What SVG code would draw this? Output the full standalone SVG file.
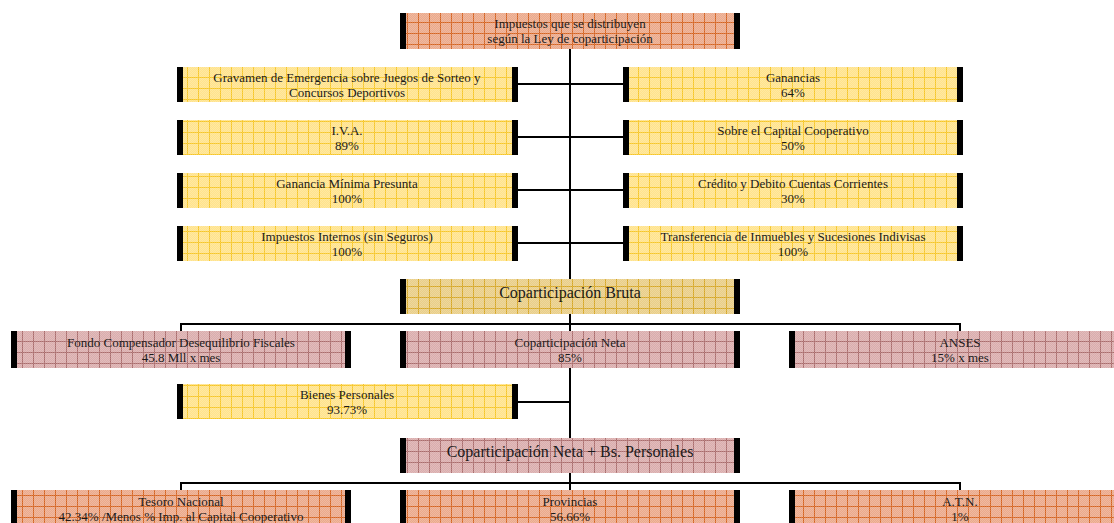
<svg xmlns="http://www.w3.org/2000/svg" width="1114" height="523" viewBox="0 0 1114 523">
<defs>
<pattern id="pOr" patternUnits="userSpaceOnUse" width="11" height="11"><rect width="11" height="11" fill="#EBA98B"/><path d="M0.5 0V11M0 0.5H11" stroke="#D4621F" stroke-width="1"/></pattern>
<pattern id="pYe" patternUnits="userSpaceOnUse" width="11" height="11"><rect width="11" height="11" fill="#FFE38C"/><path d="M0.5 0V11M0 0.5H11" stroke="#F6C626" stroke-width="1"/></pattern>
<pattern id="pBr" patternUnits="userSpaceOnUse" width="11" height="11"><rect width="11" height="11" fill="#E9CE88"/><path d="M0.5 0V11M0 0.5H11" stroke="#D6A623" stroke-width="1"/></pattern>
<pattern id="pPk" patternUnits="userSpaceOnUse" width="11" height="11"><rect width="11" height="11" fill="#DAADAD"/><path d="M0.5 0V11M0 0.5H11" stroke="#AA6B6B" stroke-width="1"/></pattern>
<pattern id="dith" patternUnits="userSpaceOnUse" width="2" height="2"><rect width="1" height="1" fill="#ffffff" fill-opacity="0.18"/><rect x="1" y="1" width="1" height="1" fill="#ffffff" fill-opacity="0.18"/></pattern>
</defs>
<style>
.bar{fill:#000}
.t{font-family:"Liberation Serif","Times New Roman",serif;font-size:13px;fill:#1a1a1a;text-anchor:middle}
.tl{font-family:"Liberation Serif","Times New Roman",serif;font-size:16px;fill:#1a1a1a;text-anchor:middle}
.c{fill:none;stroke:#000;stroke-width:2}
.d{fill:url(#dith)}
</style>
<rect width="1114" height="523" fill="#fff"/>
<g id="connectors">
<path class="c" d="M570 49V279M518 84H623M518 137H623M518 190H623M518 243H623"/>
<path class="c" d="M570 314V331M181 331V324H960V331"/>
<path class="c" d="M570 368V438M518 402H570"/>
<path class="c" d="M570 473V490M181 490V483H960V490"/>
</g>
<g id="n-top"><rect x="400" y="13" width="340" height="36" fill="url(#pOr)"/><rect x="400" y="13" width="340" height="36" class="d"/><rect class="bar" x="400" y="13" width="6" height="36"/><rect class="bar" x="734" y="13" width="6" height="36"/><text class="t" x="570" y="28">Impuestos que se distribuyen</text><text class="t" x="570" y="43">según la Ley de coparticipación</text></g>
<g id="n-gravamen"><rect x="177" y="67" width="341" height="35" fill="url(#pYe)"/><rect x="177" y="67" width="341" height="35" class="d"/><rect class="bar" x="177" y="67" width="6" height="35"/><rect class="bar" x="512" y="67" width="6" height="35"/><text class="t" x="347" y="82">Gravamen de Emergencia sobre Juegos de Sorteo y</text><text class="t" x="347" y="97">Concursos Deportivos</text></g>
<g id="n-ganancias"><rect x="623" y="67" width="340" height="35" fill="url(#pYe)"/><rect x="623" y="67" width="340" height="35" class="d"/><rect class="bar" x="623" y="67" width="6" height="35"/><rect class="bar" x="957" y="67" width="6" height="35"/><text class="t" x="793" y="82">Ganancias</text><text class="t" x="793" y="97">64%</text></g>
<g id="n-iva"><rect x="177" y="120" width="341" height="35" fill="url(#pYe)"/><rect x="177" y="120" width="341" height="35" class="d"/><rect class="bar" x="177" y="120" width="6" height="35"/><rect class="bar" x="512" y="120" width="6" height="35"/><text class="t" x="347" y="135">I.V.A.</text><text class="t" x="347" y="150">89%</text></g>
<g id="n-capital"><rect x="623" y="120" width="340" height="35" fill="url(#pYe)"/><rect x="623" y="120" width="340" height="35" class="d"/><rect class="bar" x="623" y="120" width="6" height="35"/><rect class="bar" x="957" y="120" width="6" height="35"/><text class="t" x="793" y="135">Sobre el Capital Cooperativo</text><text class="t" x="793" y="150">50%</text></g>
<g id="n-gmp"><rect x="177" y="173" width="341" height="35" fill="url(#pYe)"/><rect x="177" y="173" width="341" height="35" class="d"/><rect class="bar" x="177" y="173" width="6" height="35"/><rect class="bar" x="512" y="173" width="6" height="35"/><text class="t" x="347" y="188">Ganancia Mínima Presunta</text><text class="t" x="347" y="203">100%</text></g>
<g id="n-credito"><rect x="623" y="173" width="340" height="35" fill="url(#pYe)"/><rect x="623" y="173" width="340" height="35" class="d"/><rect class="bar" x="623" y="173" width="6" height="35"/><rect class="bar" x="957" y="173" width="6" height="35"/><text class="t" x="793" y="188">Crédito y Debito Cuentas Corrientes</text><text class="t" x="793" y="203">30%</text></g>
<g id="n-internos"><rect x="177" y="226" width="341" height="35" fill="url(#pYe)"/><rect x="177" y="226" width="341" height="35" class="d"/><rect class="bar" x="177" y="226" width="6" height="35"/><rect class="bar" x="512" y="226" width="6" height="35"/><text class="t" x="347" y="241">Impuestos Internos (sin Seguros)</text><text class="t" x="347" y="256">100%</text></g>
<g id="n-transferencia"><rect x="623" y="226" width="340" height="35" fill="url(#pYe)"/><rect x="623" y="226" width="340" height="35" class="d"/><rect class="bar" x="623" y="226" width="6" height="35"/><rect class="bar" x="957" y="226" width="6" height="35"/><text class="t" x="793" y="241">Transferencia de Inmuebles y Sucesiones Indivisas</text><text class="t" x="793" y="256">100%</text></g>
<g id="n-bruta"><rect x="400" y="279" width="340" height="35" fill="url(#pBr)"/><rect x="400" y="279" width="340" height="35" class="d"/><rect class="bar" x="400" y="279" width="6" height="35"/><rect class="bar" x="734" y="279" width="6" height="35"/><text class="tl" x="570" y="298">Coparticipación Bruta</text></g>
<g id="n-fondo"><rect x="11" y="331" width="340" height="37" fill="url(#pPk)"/><rect x="11" y="331" width="340" height="37" class="d"/><rect class="bar" x="11" y="331" width="6" height="37"/><rect class="bar" x="345" y="331" width="6" height="37"/><text class="t" x="181" y="347">Fondo Compensador Desequilibrio Fiscales</text><text class="t" x="181" y="362">45.8 Mll x mes</text></g>
<g id="n-neta"><rect x="400" y="331" width="340" height="37" fill="url(#pPk)"/><rect x="400" y="331" width="340" height="37" class="d"/><rect class="bar" x="400" y="331" width="6" height="37"/><rect class="bar" x="734" y="331" width="6" height="37"/><text class="t" x="570" y="347">Coparticipación Neta</text><text class="t" x="570" y="362">85%</text></g>
<g id="n-anses"><rect x="789" y="331" width="340" height="37" fill="url(#pPk)"/><rect x="789" y="331" width="340" height="37" class="d"/><rect class="bar" x="789" y="331" width="6" height="37"/><text class="t" x="960" y="347">ANSES</text><text class="t" x="960" y="362">15% x mes</text></g>
<g id="n-bienes"><rect x="177" y="384" width="341" height="35" fill="url(#pYe)"/><rect x="177" y="384" width="341" height="35" class="d"/><rect class="bar" x="177" y="384" width="6" height="35"/><rect class="bar" x="512" y="384" width="6" height="35"/><text class="t" x="347" y="399">Bienes Personales</text><text class="t" x="347" y="414">93.73%</text></g>
<g id="n-netabs"><rect x="400" y="438" width="340" height="35" fill="url(#pPk)"/><rect x="400" y="438" width="340" height="35" class="d"/><rect class="bar" x="400" y="438" width="6" height="35"/><rect class="bar" x="734" y="438" width="6" height="35"/><text class="tl" x="570" y="457">Coparticipación Neta + Bs. Personales</text></g>
<g id="n-tesoro"><rect x="11" y="490" width="340" height="40" fill="url(#pOr)"/><rect x="11" y="490" width="340" height="40" class="d"/><rect class="bar" x="11" y="490" width="6" height="40"/><rect class="bar" x="345" y="490" width="6" height="40"/><text class="t" x="181" y="506">Tesoro Nacional</text><text class="t" x="181" y="521">42.34% /Menos % Imp. al Capital Cooperativo</text></g>
<g id="n-provincias"><rect x="400" y="490" width="340" height="40" fill="url(#pOr)"/><rect x="400" y="490" width="340" height="40" class="d"/><rect class="bar" x="400" y="490" width="6" height="40"/><rect class="bar" x="734" y="490" width="6" height="40"/><text class="t" x="570" y="506">Provincias</text><text class="t" x="570" y="521">56.66%</text></g>
<g id="n-atn"><rect x="789" y="490" width="340" height="40" fill="url(#pOr)"/><rect x="789" y="490" width="340" height="40" class="d"/><rect class="bar" x="789" y="490" width="6" height="40"/><text class="t" x="960" y="506">A.T.N.</text><text class="t" x="960" y="521">1%</text></g>
</svg>
